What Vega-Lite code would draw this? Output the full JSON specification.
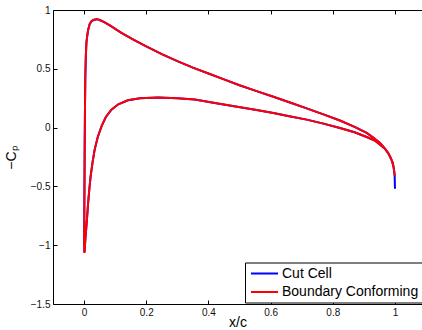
{
  "$schema": "https://vega.github.io/schema/vega-lite/v6.json",
  "autosize": {"type": "none"},
  "padding": {"left": 53, "top": 10, "right": 0, "bottom": 26},
  "width": 369,
  "height": 294,
  "background": "white",
  "config": {
    "font": "Liberation Sans",
    "view": {"stroke": null},
    "axis": {
      "domainColor": "#000", "domainWidth": 1, "tickColor": "#000", "tickWidth": 1,
      "labelColor": "#111", "titleColor": "#000", "labelFont": "Liberation Sans",
      "labelFontSize": 10, "titleFont": "Liberation Sans", "titleFontSize": 14,
      "titleFontWeight": "normal", "grid": false, "tickSize": -4, "labelPadding": 7
    },
    "legend": {
      "strokeColor": "#000", "fillColor": "white", "padding": 3,
      "symbolType": "M-1.93,0H1.93", "symbolSize": 196, "symbolStrokeWidth": 2,
      "symbolOffset": 8.5, "labelOffset": 9.5,
      "labelFontSize": 14, "labelFont": "Liberation Sans", "labelColor": "#000",
      "labelLimit": 300, "rowPadding": 3.5, "cornerRadius": 0
    }
  },
  "data": {"values": [
    {"s":"Cut Cell","o":0,"x":1.0,"y":-0.52},
    {"s":"Cut Cell","o":1,"x":0.999,"y":-0.40},
    {"s":"Cut Cell","o":2,"x":0.997,"y":-0.36},
    {"s":"Cut Cell","o":3,"x":0.993,"y":-0.30},
    {"s":"Cut Cell","o":4,"x":0.985,"y":-0.25},
    {"s":"Cut Cell","o":5,"x":0.978,"y":-0.215},
    {"s":"Cut Cell","o":6,"x":0.965,"y":-0.17},
    {"s":"Cut Cell","o":7,"x":0.952,"y":-0.13},
    {"s":"Cut Cell","o":8,"x":0.93,"y":-0.085},
    {"s":"Cut Cell","o":9,"x":0.909,"y":-0.045},
    {"s":"Cut Cell","o":10,"x":0.87,"y":0.006},
    {"s":"Cut Cell","o":11,"x":0.823,"y":0.06},
    {"s":"Cut Cell","o":12,"x":0.77,"y":0.112},
    {"s":"Cut Cell","o":13,"x":0.716,"y":0.163},
    {"s":"Cut Cell","o":14,"x":0.66,"y":0.215},
    {"s":"Cut Cell","o":15,"x":0.609,"y":0.262},
    {"s":"Cut Cell","o":16,"x":0.555,"y":0.31},
    {"s":"Cut Cell","o":17,"x":0.5,"y":0.36},
    {"s":"Cut Cell","o":18,"x":0.45,"y":0.41},
    {"s":"Cut Cell","o":19,"x":0.4,"y":0.46},
    {"s":"Cut Cell","o":20,"x":0.35,"y":0.51},
    {"s":"Cut Cell","o":21,"x":0.3,"y":0.565},
    {"s":"Cut Cell","o":22,"x":0.25,"y":0.625},
    {"s":"Cut Cell","o":23,"x":0.2,"y":0.69},
    {"s":"Cut Cell","o":24,"x":0.16,"y":0.745},
    {"s":"Cut Cell","o":25,"x":0.12,"y":0.805},
    {"s":"Cut Cell","o":26,"x":0.088,"y":0.86},
    {"s":"Cut Cell","o":27,"x":0.065,"y":0.897},
    {"s":"Cut Cell","o":28,"x":0.05,"y":0.915},
    {"s":"Cut Cell","o":29,"x":0.042,"y":0.922},
    {"s":"Cut Cell","o":30,"x":0.032,"y":0.918},
    {"s":"Cut Cell","o":31,"x":0.0235,"y":0.904},
    {"s":"Cut Cell","o":32,"x":0.018,"y":0.88},
    {"s":"Cut Cell","o":33,"x":0.013,"y":0.83},
    {"s":"Cut Cell","o":34,"x":0.0095,"y":0.77},
    {"s":"Cut Cell","o":35,"x":0.0075,"y":0.72},
    {"s":"Cut Cell","o":36,"x":0.0055,"y":0.6},
    {"s":"Cut Cell","o":37,"x":0.004,"y":0.44},
    {"s":"Cut Cell","o":38,"x":0.003,"y":0.2},
    {"s":"Cut Cell","o":39,"x":0.002,"y":-0.13},
    {"s":"Cut Cell","o":40,"x":0.0012,"y":-0.5},
    {"s":"Cut Cell","o":41,"x":0.0006,"y":-0.8},
    {"s":"Cut Cell","o":42,"x":0.0003,"y":-0.98},
    {"s":"Cut Cell","o":43,"x":0.001,"y":-1.06},
    {"s":"Cut Cell","o":44,"x":0.002,"y":-1.04},
    {"s":"Cut Cell","o":45,"x":0.004,"y":-0.95},
    {"s":"Cut Cell","o":46,"x":0.0065,"y":-0.87},
    {"s":"Cut Cell","o":47,"x":0.01,"y":-0.75},
    {"s":"Cut Cell","o":48,"x":0.013,"y":-0.64},
    {"s":"Cut Cell","o":49,"x":0.017,"y":-0.52},
    {"s":"Cut Cell","o":50,"x":0.021,"y":-0.414},
    {"s":"Cut Cell","o":51,"x":0.027,"y":-0.3},
    {"s":"Cut Cell","o":52,"x":0.034,"y":-0.187},
    {"s":"Cut Cell","o":53,"x":0.044,"y":-0.08},
    {"s":"Cut Cell","o":54,"x":0.056,"y":0.011},
    {"s":"Cut Cell","o":55,"x":0.07,"y":0.09},
    {"s":"Cut Cell","o":56,"x":0.088,"y":0.153},
    {"s":"Cut Cell","o":57,"x":0.11,"y":0.198},
    {"s":"Cut Cell","o":58,"x":0.141,"y":0.232},
    {"s":"Cut Cell","o":59,"x":0.18,"y":0.25},
    {"s":"Cut Cell","o":60,"x":0.238,"y":0.255},
    {"s":"Cut Cell","o":61,"x":0.3,"y":0.25},
    {"s":"Cut Cell","o":62,"x":0.356,"y":0.238},
    {"s":"Cut Cell","o":63,"x":0.43,"y":0.205},
    {"s":"Cut Cell","o":64,"x":0.502,"y":0.173},
    {"s":"Cut Cell","o":65,"x":0.555,"y":0.15},
    {"s":"Cut Cell","o":66,"x":0.609,"y":0.125},
    {"s":"Cut Cell","o":67,"x":0.66,"y":0.097},
    {"s":"Cut Cell","o":68,"x":0.716,"y":0.068},
    {"s":"Cut Cell","o":69,"x":0.77,"y":0.034},
    {"s":"Cut Cell","o":70,"x":0.823,"y":-0.003},
    {"s":"Cut Cell","o":71,"x":0.87,"y":-0.04},
    {"s":"Cut Cell","o":72,"x":0.909,"y":-0.08},
    {"s":"Cut Cell","o":73,"x":0.935,"y":-0.11},
    {"s":"Cut Cell","o":74,"x":0.952,"y":-0.145},
    {"s":"Cut Cell","o":75,"x":0.968,"y":-0.18},
    {"s":"Cut Cell","o":76,"x":0.98,"y":-0.225},
    {"s":"Cut Cell","o":77,"x":0.99,"y":-0.28},
    {"s":"Cut Cell","o":78,"x":0.996,"y":-0.34},
    {"s":"Cut Cell","o":79,"x":0.999,"y":-0.40},
    {"s":"Cut Cell","o":80,"x":1.0,"y":-0.52},
    {"s":"Boundary Conforming","o":1,"x":0.999,"y":-0.41},
    {"s":"Boundary Conforming","o":2,"x":0.997,"y":-0.36},
    {"s":"Boundary Conforming","o":3,"x":0.993,"y":-0.30},
    {"s":"Boundary Conforming","o":4,"x":0.985,"y":-0.25},
    {"s":"Boundary Conforming","o":5,"x":0.978,"y":-0.215},
    {"s":"Boundary Conforming","o":6,"x":0.965,"y":-0.17},
    {"s":"Boundary Conforming","o":7,"x":0.952,"y":-0.13},
    {"s":"Boundary Conforming","o":8,"x":0.93,"y":-0.085},
    {"s":"Boundary Conforming","o":9,"x":0.909,"y":-0.045},
    {"s":"Boundary Conforming","o":10,"x":0.87,"y":0.006},
    {"s":"Boundary Conforming","o":11,"x":0.823,"y":0.06},
    {"s":"Boundary Conforming","o":12,"x":0.77,"y":0.112},
    {"s":"Boundary Conforming","o":13,"x":0.716,"y":0.163},
    {"s":"Boundary Conforming","o":14,"x":0.66,"y":0.215},
    {"s":"Boundary Conforming","o":15,"x":0.609,"y":0.262},
    {"s":"Boundary Conforming","o":16,"x":0.555,"y":0.31},
    {"s":"Boundary Conforming","o":17,"x":0.5,"y":0.36},
    {"s":"Boundary Conforming","o":18,"x":0.45,"y":0.41},
    {"s":"Boundary Conforming","o":19,"x":0.4,"y":0.46},
    {"s":"Boundary Conforming","o":20,"x":0.35,"y":0.51},
    {"s":"Boundary Conforming","o":21,"x":0.3,"y":0.565},
    {"s":"Boundary Conforming","o":22,"x":0.25,"y":0.625},
    {"s":"Boundary Conforming","o":23,"x":0.2,"y":0.69},
    {"s":"Boundary Conforming","o":24,"x":0.16,"y":0.745},
    {"s":"Boundary Conforming","o":25,"x":0.12,"y":0.805},
    {"s":"Boundary Conforming","o":26,"x":0.088,"y":0.86},
    {"s":"Boundary Conforming","o":27,"x":0.065,"y":0.897},
    {"s":"Boundary Conforming","o":28,"x":0.05,"y":0.915},
    {"s":"Boundary Conforming","o":29,"x":0.042,"y":0.922},
    {"s":"Boundary Conforming","o":30,"x":0.032,"y":0.918},
    {"s":"Boundary Conforming","o":31,"x":0.0235,"y":0.904},
    {"s":"Boundary Conforming","o":32,"x":0.018,"y":0.88},
    {"s":"Boundary Conforming","o":33,"x":0.013,"y":0.83},
    {"s":"Boundary Conforming","o":34,"x":0.0095,"y":0.77},
    {"s":"Boundary Conforming","o":35,"x":0.0075,"y":0.72},
    {"s":"Boundary Conforming","o":36,"x":0.0055,"y":0.6},
    {"s":"Boundary Conforming","o":37,"x":0.004,"y":0.44},
    {"s":"Boundary Conforming","o":38,"x":0.003,"y":0.2},
    {"s":"Boundary Conforming","o":39,"x":0.002,"y":-0.13},
    {"s":"Boundary Conforming","o":40,"x":0.0012,"y":-0.5},
    {"s":"Boundary Conforming","o":41,"x":0.0006,"y":-0.8},
    {"s":"Boundary Conforming","o":42,"x":0.0003,"y":-0.98},
    {"s":"Boundary Conforming","o":43,"x":0.001,"y":-1.066},
    {"s":"Boundary Conforming","o":44,"x":0.002,"y":-1.04},
    {"s":"Boundary Conforming","o":45,"x":0.004,"y":-0.95},
    {"s":"Boundary Conforming","o":46,"x":0.0065,"y":-0.87},
    {"s":"Boundary Conforming","o":47,"x":0.01,"y":-0.75},
    {"s":"Boundary Conforming","o":48,"x":0.013,"y":-0.64},
    {"s":"Boundary Conforming","o":49,"x":0.017,"y":-0.52},
    {"s":"Boundary Conforming","o":50,"x":0.021,"y":-0.414},
    {"s":"Boundary Conforming","o":51,"x":0.027,"y":-0.3},
    {"s":"Boundary Conforming","o":52,"x":0.034,"y":-0.187},
    {"s":"Boundary Conforming","o":53,"x":0.044,"y":-0.08},
    {"s":"Boundary Conforming","o":54,"x":0.056,"y":0.011},
    {"s":"Boundary Conforming","o":55,"x":0.07,"y":0.09},
    {"s":"Boundary Conforming","o":56,"x":0.088,"y":0.153},
    {"s":"Boundary Conforming","o":57,"x":0.11,"y":0.198},
    {"s":"Boundary Conforming","o":58,"x":0.141,"y":0.232},
    {"s":"Boundary Conforming","o":59,"x":0.18,"y":0.25},
    {"s":"Boundary Conforming","o":60,"x":0.238,"y":0.255},
    {"s":"Boundary Conforming","o":61,"x":0.3,"y":0.25},
    {"s":"Boundary Conforming","o":62,"x":0.356,"y":0.238},
    {"s":"Boundary Conforming","o":63,"x":0.43,"y":0.205},
    {"s":"Boundary Conforming","o":64,"x":0.502,"y":0.173},
    {"s":"Boundary Conforming","o":65,"x":0.555,"y":0.15},
    {"s":"Boundary Conforming","o":66,"x":0.609,"y":0.125},
    {"s":"Boundary Conforming","o":67,"x":0.66,"y":0.097},
    {"s":"Boundary Conforming","o":68,"x":0.716,"y":0.068},
    {"s":"Boundary Conforming","o":69,"x":0.77,"y":0.034},
    {"s":"Boundary Conforming","o":70,"x":0.823,"y":-0.003},
    {"s":"Boundary Conforming","o":71,"x":0.87,"y":-0.04},
    {"s":"Boundary Conforming","o":72,"x":0.909,"y":-0.08},
    {"s":"Boundary Conforming","o":73,"x":0.935,"y":-0.11},
    {"s":"Boundary Conforming","o":74,"x":0.952,"y":-0.145},
    {"s":"Boundary Conforming","o":75,"x":0.968,"y":-0.18},
    {"s":"Boundary Conforming","o":76,"x":0.98,"y":-0.225},
    {"s":"Boundary Conforming","o":77,"x":0.99,"y":-0.28},
    {"s":"Boundary Conforming","o":78,"x":0.996,"y":-0.34},
    {"s":"Boundary Conforming","o":79,"x":0.999,"y":-0.41}
  ]},
  "encoding": {
    "x": {"field": "x", "type": "quantitative", "scale": {"domain": [-0.1, 1.087], "nice": false, "zero": false}},
    "y": {"field": "y", "type": "quantitative", "scale": {"domain": [-1.5, 1], "nice": false, "zero": false}},
    "order": {"field": "o", "type": "quantitative"}
  },
  "layer": [
    {
      "transform": [{"filter": "datum.s === 'Cut Cell'"}],
      "mark": {"type": "line", "strokeWidth": 2, "clip": true},
      "encoding": {
        "x": {"field": "x", "type": "quantitative", "axis": {"orient": "bottom", "title": "x/c", "values": [0, 0.2, 0.4, 0.6, 0.8, 1], "format": "~g", "titlePadding": -2}},
        "y": {"field": "y", "type": "quantitative", "axis": {"title": "−Cₚ", "values": [-1.5, -1, -0.5, 0, 0.5, 1], "format": "~g", "titlePadding": 12}},
        "color": {"field": "s", "type": "nominal", "scale": {"domain": ["Cut Cell", "Boundary Conforming"], "range": ["#0000ff", "#ff0000"]},
          "legend": {"title": null, "orient": "none", "legendX": 192, "legendY": 252.5}}
      }
    },
    {
      "transform": [{"filter": "datum.s === 'Boundary Conforming'"}],
      "mark": {"type": "line", "strokeWidth": 2, "clip": true},
      "encoding": {
        "x": {"field": "x", "type": "quantitative", "axis": null},
        "color": {"field": "s", "type": "nominal"}
      }
    },
    {
      "transform": [{"filter": "datum.s === 'Cut Cell'"}],
      "mark": {"type": "line", "opacity": 0},
      "encoding": {
        "x": {"field": "x", "type": "quantitative", "axis": {"orient": "top", "title": null, "labels": false, "values": [0, 0.2, 0.4, 0.6, 0.8, 1]}}
      }
    }
  ],
  "resolve": {"axis": {"x": "independent"}}
}
